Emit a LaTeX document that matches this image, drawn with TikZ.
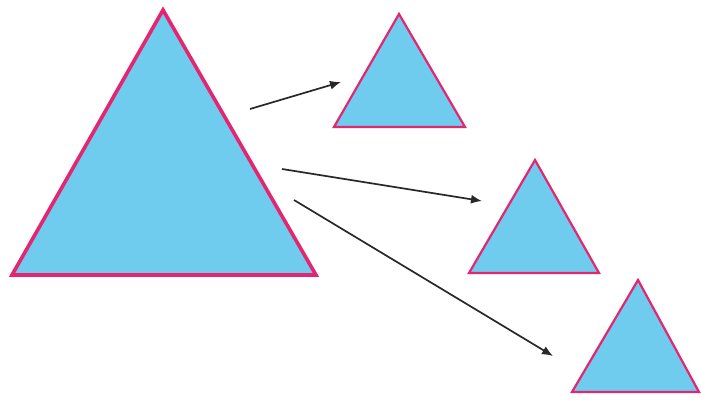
\documentclass[tikz,border=0pt]{standalone}
\usetikzlibrary{arrows.meta}
\definecolor{triblue}{RGB}{112,204,238}
\definecolor{tripink}{RGB}{228,38,112}
\definecolor{arrgray}{RGB}{40,40,40}
\begin{document}
\begin{tikzpicture}[x=1pt,y=-1pt,
  bigtri/.style={fill=triblue,draw=tripink,line width=3.6pt,line join=miter},
  smalltri/.style={fill=triblue,draw=tripink,line width=2.2pt,line join=miter},
  conn/.style={draw=arrgray,line width=1.7pt,-{Latex[length=11pt,width=9pt]}}]
\useasboundingbox (0,0) rectangle (701,401);
% big triangle
\coordinate (B1) at (163,10);
\coordinate (B2) at (12,275);
\coordinate (B3) at (316,275);
\filldraw[bigtri] (B1) -- (B2) -- (B3) -- cycle;
% small triangles
\coordinate (S1a) at (399,14);
\coordinate (S1b) at (334,127);
\coordinate (S1c) at (465,127);
\filldraw[smalltri] (S1a) -- (S1b) -- (S1c) -- cycle;
\coordinate (S2a) at (535,160);
\coordinate (S2b) at (469,273);
\coordinate (S2c) at (599,273);
\filldraw[smalltri] (S2a) -- (S2b) -- (S2c) -- cycle;
\coordinate (S3a) at (638,280);
\coordinate (S3b) at (572,392);
\coordinate (S3c) at (699,392);
\filldraw[smalltri] (S3a) -- (S3b) -- (S3c) -- cycle;
% arrows
\coordinate (A1s) at (250,109);
\coordinate (A1e) at (341,82);
\coordinate (A2s) at (282,169);
\coordinate (A2e) at (482,201);
\coordinate (A3s) at (294,200);
\coordinate (A3e) at (553,356);
\draw[conn] (A1s) -- (A1e);
\draw[conn] (A2s) -- (A2e);
\draw[conn] (A3s) -- (A3e);
\end{tikzpicture}
\end{document}
